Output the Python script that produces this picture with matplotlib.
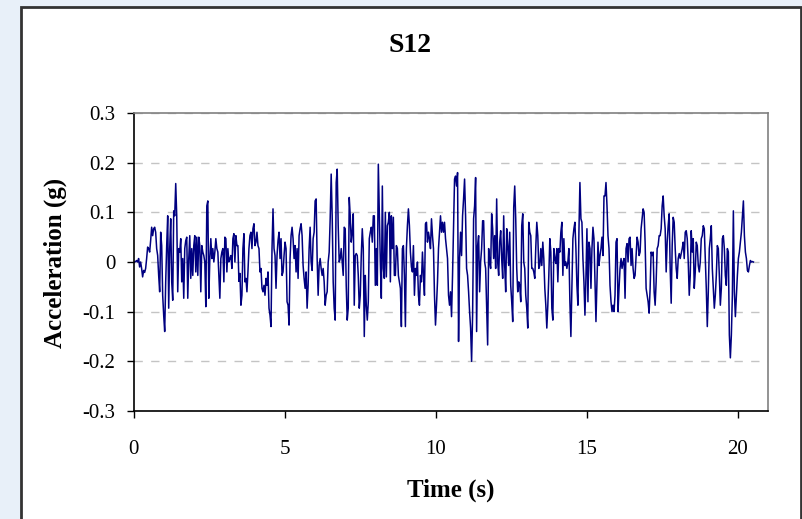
# -*- coding: utf-8 -*-
import numpy as np
import matplotlib
matplotlib.use("Agg")
import matplotlib.pyplot as plt
from matplotlib.patches import Rectangle
from matplotlib.ticker import FuncFormatter

plt.rcParams['font.family'] = ['Liberation Serif', 'DejaVu Serif']
plt.rcParams['axes.unicode_minus'] = False

# sampling step (s)
DT = 0.0332

# acceleration (g), read from the record in consecutive stretches
acc_0_3s = [0, 0, 0.001, 0.003, 0, 0.007, -0.01, 0, -0.013, -0.03,
            -0.017, -0.021, -0.013, 0.007, 0.03, 0.027, 0.02, 0.043, 0.07, 0.053,
            0.067, 0.07, 0.06, 0.027, 0.013, -0.027, -0.06, 0.06, 0.033, -0.067,
            -0.107, -0.14, -0.04, 0.033, 0.093, -0.093, 0.027, 0.087, -0.04, -0.077,
            0.103, 0.093, 0.158, 0.093, -0.06, 0.027, 0.02, 0.047, -0.04, 0.007,
            -0.073, 0.027, 0.043, 0.05, -0.073, 0.007, 0.053, -0.033, 0.027, -0.027,
            0.033, 0.053, -0.02, 0.05, -0.027, 0.05, 0.033, -0.06, 0.033, 0.02,
            0.013, 0, -0.09, 0.113, 0.123, -0.073, 0.007, 0.047, 0.007, 0.027,
            0, 0.02, 0.047, 0.027, 0.02, -0.027, -0.073, 0.007, 0.02, 0.027,
            -0.04, 0.05, 0.047, -0.02, 0.027, 0, 0.007, 0.013, -0.013, 0.047,
            0.057, 0, 0.053, 0.033, 0.033]

acc_3_7s = [-0.039, -0.023, -0.087, -0.067, 0.027, 0.057, -0.04, -0.033, -0.06, -0.02,
            0.027, 0.053, 0.06, 0.027, 0.067, 0.077, 0.033, 0.04, 0.06, 0.033,
            0.027, -0.02, -0.013, -0.053, -0.06, -0.047, -0.067, -0.033, -0.047, -0.02,
            -0.093, -0.107, -0.13, 0.027, 0.107, 0.027, 0.013, -0.053, 0.013, 0.043,
            0.06, 0.007, 0.047, -0.027, -0.02, 0.013, 0.04, 0.027, -0.08, -0.087,
            -0.127, 0.007, 0.053, 0.07, 0.047, 0.007, 0.033, -0.02, 0.027, -0.033,
            0.053, 0.067, 0.077, 0.053, -0.007, -0.033, -0.053, -0.02, -0.093, -0.047,
            0.027, 0.07, 0, -0.017, 0.047, 0.06, 0.123, 0.127, 0.007, -0.067,
            -0.007, 0.007, -0.013, -0.027, -0.013, -0.04, -0.087, -0.067, -0.06, 0,
            0.02, 0.087, 0.177, 0.093, -0.04, -0.093, -0.117, 0.16, 0.187, 0.073,
            0, 0.007]

acc_7_10s = [0.027, 0, -0.027, 0.07, 0.067, -0.047, -0.117, -0.093, 0.13, 0.093,
             0.04, 0.06, 0.097, -0.087, 0.013, 0.017, 0.013, -0.027, -0.093, -0.067,
             0.013, 0.067, 0.027, -0.15, -0.027, -0.087, -0.117, -0.08, 0.047, 0.06,
             0.07, 0.04, 0.093, 0.093, -0.047, 0.027, -0.047, 0.197, 0.093, 0,
             -0.073, 0.153, -0.013, -0.033, 0.1, -0.03, 0.073, 0.08, 0.1, -0.04,
             0.093, 0.027, 0.09, -0.027, -0.027, 0.033, 0.027, -0.027, -0.04, -0.053,
             -0.13, 0.027, 0.033, -0.027, -0.13, 0.027, 0.073, 0.107, 0.073, 0.02,
             -0.01, -0.02, 0.033, -0.067, -0.013, -0.027, 0, -0.067, -0.087, -0.027,
             -0.04, 0.02, -0.027, -0.067, 0.077, 0.08, 0.04, 0.06, 0.047, 0.027,
             0.087, 0.053, 0.027, -0.067, -0.127, -0.087, -0.04, 0.027, 0.06, 0.093,
             0.06, 0.08]

acc_10_14s = [0.06, 0.08, 0.047, 0.027, 0.007, -0.067, -0.087, -0.06, -0.11, -0.027,
              0.073, 0.167, 0.173, 0.153, 0.18, -0.16, 0.007, 0.06, 0.013, 0.093,
              0.127, 0.167, 0.093, -0.013, -0.027, -0.06, -0.1, -0.133, -0.2, -0.107,
              0.087, 0.113, 0.17, -0.14, 0.033, 0.053, -0.06, 0, 0.027, 0.083,
              0.083, 0, -0.013, -0.093, -0.167, 0.027, 0, -0.013, 0.097, 0.067,
              0.007, 0.053, -0.013, 0.127, 0, -0.027, 0.04, 0.063, 0.007, -0.033,
              0.093, -0.007, -0.06, 0.067, 0.033, -0.007, 0.06, -0.047, -0.08, -0.12,
              0.11, 0.153, 0.087, -0.013, -0.06, -0.04, -0.047, -0.08, 0.073, 0.097,
              0, -0.013, -0.067, -0.093, -0.133, 0.08, 0.06, 0.053, -0.013, -0.013,
              -0.02, -0.033, 0.03, 0.08, 0.053, -0.013, -0.007, 0.027, -0.007, 0.04,
              0.007, -0.053]

acc_14_17s = [-0.087, -0.133, -0.087, -0.027, 0.047, 0.02, -0.093, -0.117, 0.027, 0.007,
              -0.003, 0.027, -0.04, 0.027, 0.02, 0.06, 0.08, -0.027, 0.047, -0.007,
              0, -0.013, 0, 0.027, -0.08, -0.15, -0.053, 0.047, 0.067, 0.08,
              0.027, -0.047, -0.087, 0.06, 0.16, 0.087, 0.08, 0.007, -0.04, -0.107,
              -0.033, 0.067, -0.08, 0.04, 0.027, -0.053, 0.027, 0.07, 0.047, -0.033,
              -0.12, -0.04, 0.04, -0.007, 0.013, 0.027, 0.05, 0.013, 0.133, 0.133,
              0.16, 0.113, 0.053, 0.027, -0.047, -0.08, -0.1, -0.087, -0.1, -0.067,
              0.04, 0.047, -0.1, -0.053, -0.013, 0.007, -0.013, 0, 0.007, -0.073,
              0.027, 0.037, 0, 0.047, 0.05, -0.007, 0.027, -0.013, -0.033, -0.027,
              0.013, 0.05, 0.04, 0.013, 0.02, 0.067, 0.087, 0.107, 0.1, 0.04,
              -0.053, -0.067]

acc_17_21s = [-0.08, -0.103, -0.053, 0.02, 0.013, 0.02, -0.06, -0.087, -0.04, 0.027,
              0.033, 0.053, 0.053, 0.067, 0.113, 0.133, 0.093, 0.067, -0.02, 0.04,
              0.073, 0.097, -0.013, -0.083, 0.033, 0.09, 0.08, 0.027, -0.013, -0.033,
              0.007, 0.017, 0.007, 0.017, 0.027, 0.04, 0.007, 0.06, 0.063, 0.047,
              0, -0.067, -0.027, 0.063, 0.02, 0.047, -0.053, -0.02, 0.04, 0.033,
              -0.007, -0.02, 0, 0.047, 0.053, 0.073, 0.067, 0.007, -0.053, -0.13,
              -0.06, 0.027, 0.047, 0.073, -0.013, -0.053, -0.093, -0.067, -0.027, 0.033,
              0.027, -0.027, -0.087, -0.053, 0.047, 0.053, 0.027, -0.027, -0.047, 0.027,
              0.02, -0.147, -0.193, -0.147, -0.067, 0.103, -0.06, -0.11, -0.067, -0.027,
              0.007, 0.02, 0.04, 0.06, 0.09,
              0.123, 0.053, 0.02, 0.007, -0.017, -0.02, -0.007, 0.003, 0, 0.001, 0]

y_ticks = [-0.3, -0.2, -0.1, 0, 0.1, 0.2, 0.3]
x_ticks = [0, 5, 10, 15, 20]

acc = np.array(acc_0_3s + acc_3_7s + acc_7_10s + acc_10_14s + acc_14_17s + acc_17_21s)
t = np.arange(len(acc)) * DT

W, H = 803, 519
fig = plt.figure(figsize=(W / 100, H / 100), dpi=100, facecolor='#e8f0f9')

# white panel with dark frame, kept behind the axes
fig.patches.append(Rectangle((21 / W, -0.05), 780 / W, 1.05 - 7 / H,
                             transform=fig.transFigure, facecolor='white',
                             edgecolor='#333333', linewidth=2, zorder=-10))

ax = fig.add_axes([133.6 / W, 1 - 411 / H, (768 - 133.6) / W, (411 - 113) / H])
ax.set_zorder(1)
ax.plot(t, acc, color='#000080', linewidth=1.1)

ax.set_xlim(0, 21)
ax.set_ylim(-0.3, 0.3)
ax.set_xticks(x_ticks)
ax.set_yticks(y_ticks)
ax.yaxis.set_major_formatter(FuncFormatter(lambda v, p: '0' if abs(v) < 1e-9 else '%.1f' % v))
ax.yaxis.grid(True, linestyle=(0, (6, 6)), color='#c4c4c4', linewidth=1)
ax.set_axisbelow(True)

ax.spines['left'].set_color('black')
ax.spines['bottom'].set_color('black')
ax.spines['top'].set_color('#808080')
ax.spines['right'].set_color('#808080')
for s in ax.spines.values():
    s.set_linewidth(1.2)

ax.tick_params(axis='both', direction='out', length=5, width=1, labelsize=15)
ax.tick_params(axis='x', pad=16)
ax.tick_params(axis='y', pad=8)

fig.text(410 / W, 1 - 45 / H, 'S12', ha='center', va='center',
         fontsize=20, fontweight='bold')
fig.text(451 / W, 1 - 490 / H, 'Time (s)', ha='center', va='center',
         fontsize=18, fontweight='bold')
fig.text(55 / W, 1 - 263 / H, 'Acceleration (g)', ha='center', va='center',
         rotation=90, fontsize=18, fontweight='bold')

plt.savefig('out.png', dpi=100, facecolor=fig.get_facecolor())
